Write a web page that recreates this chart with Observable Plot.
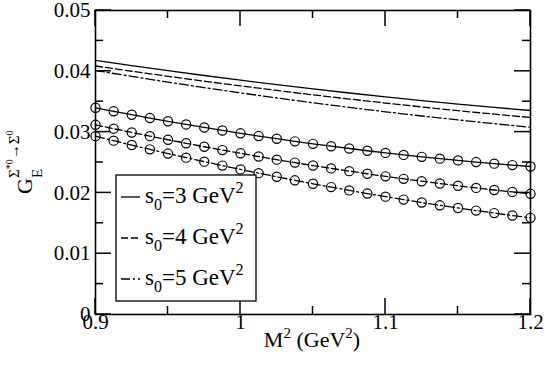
<!DOCTYPE html>
<html>
<head>
<meta charset="utf-8">
<script src="https://cdn.jsdelivr.net/npm/d3@7"></script>
<script src="https://cdn.jsdelivr.net/npm/@observablehq/plot@0.6"></script>
<style>
  html, body { margin: 0; padding: 0; background: white; }
  svg { display: block; }
</style>
</head>
<body>
<script>
// ---- data ----
const mFine = [0.9, 0.9125, 0.925, 0.9375, 0.95, 0.9625, 0.975, 0.9875, 1.0, 1.0125, 1.025, 1.0375, 1.05,
               1.0625, 1.075, 1.0875, 1.1, 1.1125, 1.125, 1.1375, 1.15, 1.1625, 1.175, 1.1875, 1.2];
const mCoarse = [0.9, 0.925, 0.95, 0.975, 1.0, 1.025, 1.05, 1.075, 1.1, 1.125, 1.15, 1.175, 1.2];

// upper curves (no markers)
const upperS3 = [0.04180, 0.04094, 0.04011, 0.03931, 0.03854, 0.03780, 0.03710, 0.03643, 0.03579, 0.03518, 0.03461, 0.03406, 0.03355];
const upperS4 = [0.04087, 0.04001, 0.03918, 0.03837, 0.03760, 0.03685, 0.03613, 0.03544, 0.03478, 0.03414, 0.03353, 0.03295, 0.03240];
const upperS5 = [0.04013, 0.03916, 0.03822, 0.03731, 0.03645, 0.03562, 0.03482, 0.03406, 0.03334, 0.03265, 0.03200, 0.03138, 0.03080];

// lower curves (circle markers)
const lowerS3 = [0.03400, 0.03342, 0.03286, 0.03231, 0.03178, 0.03126, 0.03076, 0.03027, 0.02980, 0.02935, 0.02891, 0.02848, 0.02807,
                 0.02768, 0.02730, 0.02693, 0.02658, 0.02625, 0.02593, 0.02563, 0.02534, 0.02507, 0.02481, 0.02457, 0.02434];
const lowerS4 = [0.03120, 0.03056, 0.02994, 0.02933, 0.02874, 0.02816, 0.02759, 0.02704, 0.02651, 0.02598, 0.02547, 0.02498, 0.02450,
                 0.02403, 0.02358, 0.02315, 0.02272, 0.02231, 0.02192, 0.02154, 0.02117, 0.02082, 0.02048, 0.02016, 0.01985];
const lowerS5 = [0.02933, 0.02859, 0.02787, 0.02716, 0.02647, 0.02580, 0.02514, 0.02449, 0.02386, 0.02325, 0.02265, 0.02207, 0.02150,
                 0.02095, 0.02041, 0.01989, 0.01938, 0.01890, 0.01842, 0.01796, 0.01752, 0.01709, 0.01668, 0.01628, 0.01590];

const xMajor = [0.9, 1.0, 1.1, 1.2];
const xMinor = [0.95, 1.05, 1.15];
const yMajor = [0, 0.01, 0.02, 0.03, 0.04, 0.05];
const yMinor = [0.005, 0.015, 0.025, 0.035, 0.045];
const s0Values = ["3", "4", "5"];

// ---- build tables ----
const toRows = (xs, ys) => xs.map((m, i) => ({m, g: ys[i]}));
const up3 = toRows(mCoarse, upperS3), up4 = toRows(mCoarse, upperS4), up5 = toRows(mCoarse, upperS5);
const lo3 = toRows(mFine, lowerS3), lo4 = toRows(mFine, lowerS4), lo5 = toRows(mFine, lowerS5);

const FONT = "'Liberation Serif', 'Times New Roman', serif";
const DASH = "7,3";
const DASHDOT = "9,3,2,3";
const lw = 1.3;
const lineOpts = (dash) => ({x: "m", y: "g", stroke: "black", strokeWidth: lw, strokeDasharray: dash, curve: "linear"});
const dotOpts = {x: "m", y: "g", r: 4.6, stroke: "black", fill: "none", strokeWidth: 1.2};

const W = 545, H = 373, ML = 95, MR = 15, MT = 10, MB = 59;
const xDom = [0.9, 1.2], yDom = [0, 0.05];
const MAJ = 16, MIN = 8;

const chart = Plot.plot({
  width: W,
  height: H,
  marginLeft: ML,
  marginRight: MR,
  marginTop: MT,
  marginBottom: MB,
  style: {fontFamily: FONT, fontSize: "21px", background: "white", color: "black"},
  x: {domain: xDom},
  y: {domain: yDom},
  marks: [
    Plot.line(up3, lineOpts(null)),
    Plot.line(up4, lineOpts(DASH)),
    Plot.line(up5, lineOpts(DASHDOT)),
    Plot.line(lo3, lineOpts(null)),
    Plot.line(lo4, lineOpts(DASH)),
    Plot.line(lo5, lineOpts(DASHDOT)),
    Plot.dot(lo3, dotOpts),
    Plot.dot(lo4, dotOpts),
    Plot.dot(lo5, dotOpts),
    Plot.axisX({ticks: xMajor, tickSize: 0, tickPadding: 0, label: null, fontSize: 21,
                tickFormat: d => String(+d.toFixed(2))}),
    Plot.axisY({ticks: yMajor, tickSize: 0, tickPadding: 5, label: null, fontSize: 21,
                tickFormat: d => d === 0 ? "0" : d.toFixed(2)}),
    Plot.frame({stroke: "black", strokeWidth: 1.6})
  ]
});

document.body.appendChild(chart);

const svg = d3.select(chart);
const sx = chart.scale("x"), sy = chart.scale("y");
const X = v => sx.apply(v), Y = v => sy.apply(v);
const [x0, x1] = xDom.map(X), [y0, y1] = yDom.map(Y);

// inward ticks on all four sides, positioned through Plot's scales
const tg = svg.append("g").attr("fill", "none");
const tick = (d) => tg.append("path").attr("d", d).attr("stroke", "black").attr("stroke-width", 1.5);
for (const [vals, len] of [[xMajor, MAJ], [xMinor, MIN]]) {
  for (const v of vals) {
    const px = X(v);
    tick(`M${px},${y0}V${y0 - len}`);
    tick(`M${px},${y1}V${y1 + len}`);
  }
}
for (const [vals, len] of [[yMajor, MAJ], [yMinor, MIN]]) {
  for (const v of vals) {
    const py = Y(v);
    tick(`M${x0},${py}H${x0 + len}`);
    tick(`M${x1},${py}H${x1 - len}`);
  }
}

// x-axis title: M² (GeV²)
const xt = svg.append("text")
  .attr("x", 312).attr("y", 347)
  .attr("text-anchor", "middle")
  .attr("font-family", FONT).attr("font-size", 22).attr("fill", "black");
xt.append("tspan").text("M");
xt.append("tspan").attr("font-size", 15).attr("dy", -9).text("2");
xt.append("tspan").attr("dy", 9).text(" (GeV");
xt.append("tspan").attr("font-size", 15).attr("dy", -9).text("2");
xt.append("tspan").attr("dy", 9).text(")");

// y-axis title: G_E^{Σ*0→Σ0}
const yt = svg.append("text")
  .attr("transform", "translate(32,194) rotate(-90)")
  .attr("text-anchor", "start")
  .attr("font-family", FONT).attr("font-size", 22).attr("fill", "black");
yt.append("tspan").attr("x", 0).attr("y", 0).text("G");
yt.append("tspan").attr("x", 16).attr("y", 10).attr("font-size", 15).text("E");
const sup = [
  {t: "Σ", s: 15, y: -13},
  {t: "*0", s: 10, y: -19},
  {t: "→", s: 15, y: -13},
  {t: "Σ", s: 15, y: -13},
  {t: "0", s: 10, y: -19}
];
sup.forEach((p, i) => {
  const ts = yt.append("tspan").attr("y", p.y).attr("font-size", p.s).text(p.t);
  if (i === 0) ts.attr("x", 16);
});

// legend
const lg = svg.append("g");
lg.append("rect")
  .attr("x", 116).attr("y", 175).attr("width", 140).attr("height", 126)
  .attr("fill", "white").attr("stroke", "black").attr("stroke-width", 1.3);
const dashes = [null, DASH, DASHDOT];
const rowBase = [203, 244, 285];
s0Values.forEach((v, i) => {
  const yb = rowBase[i];
  lg.append("line")
    .attr("x1", 121).attr("x2", 140).attr("y1", yb - 6).attr("y2", yb - 6)
    .attr("stroke", "black").attr("stroke-width", lw)
    .attr("stroke-dasharray", dashes[i]);
  const t = lg.append("text")
    .attr("x", 145).attr("y", yb)
    .attr("text-anchor", "start")
    .attr("font-family", FONT).attr("font-size", 23).attr("fill", "black");
  t.append("tspan").text("s");
  t.append("tspan").attr("font-size", 16).attr("dy", 7).text("0");
  t.append("tspan").attr("dy", -7).text("=" + v + " GeV");
  t.append("tspan").attr("font-size", 16).attr("dy", -10).text("2");
});
</script>
</body>
</html>
